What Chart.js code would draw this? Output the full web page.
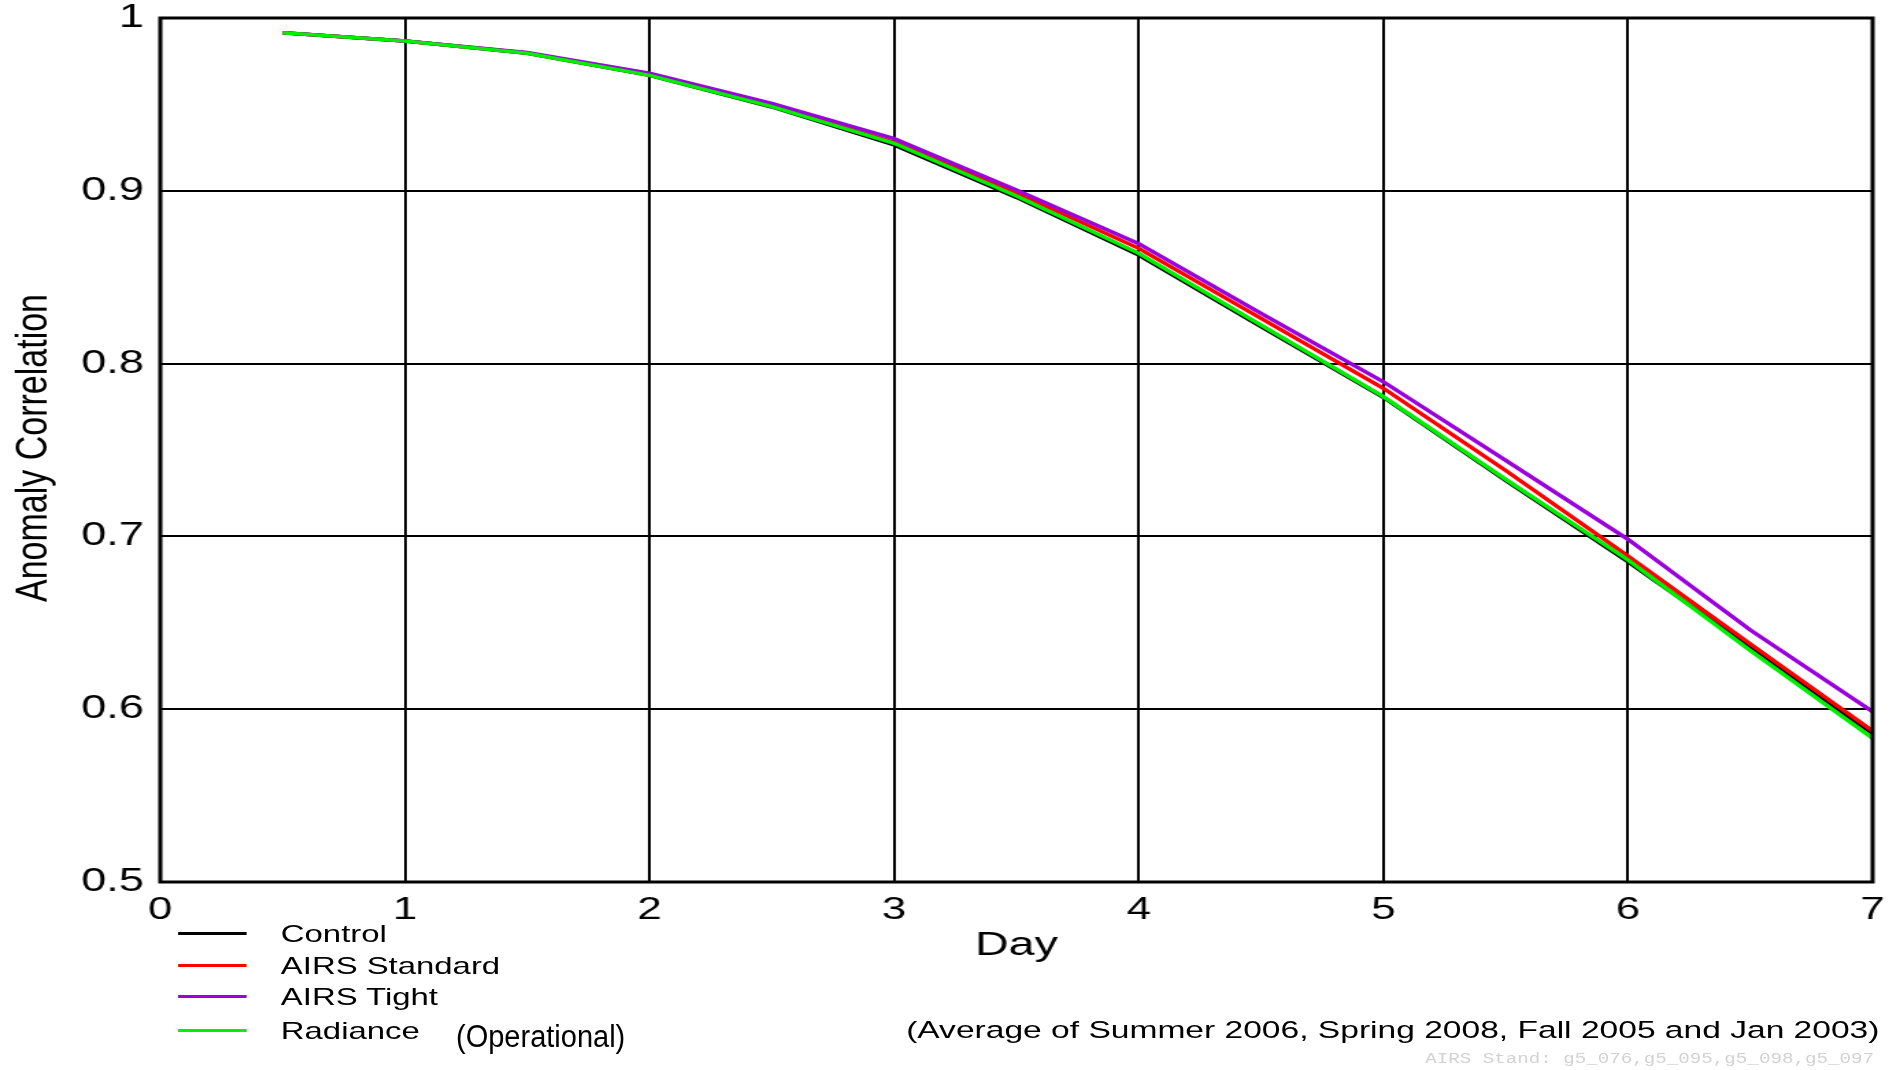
<!DOCTYPE html>
<html>
<head>
<meta charset="utf-8">
<script src="https://cdn.jsdelivr.net/npm/chart.js@4/dist/chart.umd.min.js"></script>
<style>
    html, body { margin: 0; padding: 0; background: #fff; }
    #page { position: absolute; left: 0; top: 0; width: 1900px; height: 1070px; overflow: hidden; background: #fff; font-family: "Liberation Sans", Arial, sans-serif; color: #000; }
    /* the original plot is a landscape page stretched to 16:9, so draw narrow and widen */
    #stretch { position: absolute; left: 0; top: 0; width: 1387px; height: 1070px; transform: scaleX(1.36987); transform-origin: 0 0; }
    #c { position: absolute; left: 0; top: 0; }
    .leg-row { position: absolute; left: 130px; height: 30px; }
    .leg-line { position: absolute; left: 0; top: 13px; width: 50px; height: 3px; }
    .leg-text { position: absolute; left: 75px; top: 0; line-height: 30px; font-size: 24px; white-space: nowrap; }
    #note { position: absolute; right: 15px; top: 1015px; line-height: 30px; font-size: 24.5px; white-space: nowrap; }
    #stamp { position: absolute; right: 19px; top: 1050px; line-height: 18px; font-size: 14px; font-family: "Liberation Mono", monospace; color: #d2d2d2; white-space: nowrap; }
    #ytitle { position: absolute; left: 32px; top: 448px; transform: translate(-50%, -50%) rotate(-90deg) scaleY(1.3); font-size: 34px; white-space: nowrap; }
    #oper { position: absolute; left: 456px; top: 1020px; line-height: 32px; font-size: 29px; white-space: nowrap; transform: scaleY(1.1); transform-origin: 0 50%; }
</style>
</head>
<body>
<div id="page">
    <div id="stretch">
        <canvas id="c" width="1387" height="1070" style="width:1387px;height:1070px"></canvas>
        <div id="legend"></div>
        <div id="note">(Average of Summer 2006, Spring 2008, Fall 2005 and Jan 2003)</div>
        <div id="stamp">AIRS Stand: g5_076,g5_095,g5_098,g5_097</div>
    </div>
    <div id="ytitle">Anomaly Correlation</div>
    <div id="oper">(Operational)</div>
</div>
<script>
const days = [0.5, 1, 1.5, 2, 2.5, 3, 3.5, 4, 4.5, 5, 5.5, 6, 6.5, 7];
const control      = [0.9915, 0.9867, 0.9796, 0.9668, 0.9485, 0.9265, 0.8962, 0.8628, 0.8214, 0.7805, 0.7323, 0.6854, 0.6355, 0.5860];
const airsStandard = [0.9915, 0.9867, 0.9797, 0.9672, 0.9492, 0.9280, 0.8989, 0.8667, 0.8262, 0.7857, 0.7381, 0.6887, 0.6377, 0.5874];
const airsTight    = [0.9915, 0.9867, 0.9800, 0.9680, 0.9506, 0.9302, 0.9004, 0.8694, 0.8290, 0.7895, 0.7440, 0.6983, 0.6458, 0.5986];
const radiance     = [0.9915, 0.9867, 0.9796, 0.9668, 0.9487, 0.9275, 0.8970, 0.8638, 0.8223, 0.7809, 0.7330, 0.6863, 0.6340, 0.5832];

const seriesNames = ['Control', 'AIRS Standard', 'AIRS Tight', 'Radiance'];
const seriesValues = [control, airsStandard, airsTight, radiance];
const seriesColors = ['#000000', '#ff0000', '#9a00dc', '#00ee00'];
const legendY = [934, 966, 997, 1031];

function renderLegend(container) {
    container.innerHTML = seriesNames.map((name, i) => `
        <div class="leg-row" style="top:${legendY[i] - 15}px">
            <div class="leg-line" style="background:${seriesColors[i]}"></div>
            <div class="leg-text">${name}</div>
        </div>`).join('');
}

// frame round the plot area, drawn on top of the data like the original
const frame = {
    id: 'frame',
    afterDraw(chart) {
        const { ctx, chartArea: a } = chart;
        ctx.save();
        ctx.strokeStyle = '#000';
        ctx.lineWidth = 3;
        ctx.strokeRect(a.left, a.top, a.right - a.left, a.bottom - a.top);
        ctx.restore();
    }
};

function renderChart() {
    const datasets = seriesNames.map((name, i) => ({
        label: name,
        data: days.map((d, j) => ({ x: d, y: seriesValues[i][j] })),
        borderColor: seriesColors[i],
        backgroundColor: seriesColors[i],
        borderWidth: 3.5,
        pointRadius: 0,
        tension: 0,
        order: seriesNames.length - i
    }));

    new Chart(document.getElementById('c'), {
        type: 'line',
        data: { datasets },
        options: {
            responsive: false,
            animation: false,
            layout: { padding: { left: 0, right: 20, top: 18, bottom: 0 } },
            plugins: { legend: { display: false }, tooltip: { enabled: false } },
            scales: {
                x: {
                    type: 'linear',
                    min: 0,
                    max: 7,
                    afterFit: (s) => { s.height = 188; s.paddingLeft = 0; s.paddingRight = 0; },
                    ticks: {
                        stepSize: 1,
                        padding: 12,
                        color: '#000',
                        font: { family: 'Liberation Sans', size: 32, lineHeight: 1 },
                        maxRotation: 0
                    },
                    grid: { color: '#000', lineWidth: 2, drawTicks: false },
                    border: { display: false },
                    title: {
                        display: true,
                        text: 'Day',
                        color: '#000',
                        font: { family: 'Liberation Sans', size: 34, lineHeight: 1.2 },
                        padding: { top: 0, bottom: 104 }
                    }
                },
                y: {
                    min: 0.5,
                    max: 1,
                    afterFit: (s) => { s.width = 117; s.paddingTop = 0; s.paddingBottom = 0; },
                    ticks: {
                        stepSize: 0.1,
                        padding: 12,
                        color: '#000',
                        font: { family: 'Liberation Sans', size: 33, lineHeight: 1 },
                        callback: (v) => (Math.abs(v - 1) < 1e-9 ? '1' : v.toFixed(1))
                    },
                    grid: { color: '#000', lineWidth: 2, drawTicks: false },
                    border: { display: false }
                }
            }
        },
        plugins: [frame]
    });
}

renderLegend(document.getElementById('legend'));
renderChart();
</script>
</body>
</html>
